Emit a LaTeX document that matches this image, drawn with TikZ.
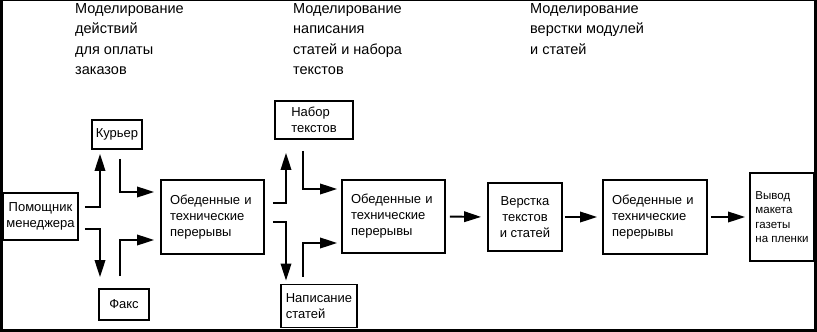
\documentclass[tikz,border=0pt]{standalone}
\usepackage{fontspec}
\setmainfont{Liberation Sans}
\usepackage{tikz}
\usetikzlibrary{positioning, arrows.meta, calc}

\begin{document}
\begin{tikzpicture}[
        x=1pt, y=-1pt,
        font=\fontsize{13}{16}\selectfont,
        b/.style={rectangle, draw, line width=1.8pt, fill=white, align=center, inner sep=2pt},
        lb/.style={b, align=left, inner sep=9pt},
        hd/.style={anchor=north west, inner sep=0pt, align=left,
            font=\fontsize{14.5}{20.5}\selectfont},
        arr/.style={-{Triangle[length=17pt, width=10.5pt]}, line width=1.9pt}
    ]
    \useasboundingbox (0,0) rectangle (817,332);
    \draw[line width=2.8pt] (1.4,0) -- (1.4,330.6) -- (815.3,330.6) -- (815.3,0);
    \draw[line width=1pt] (0,0.5) -- (817,0.5);

    \node[hd] (h1) at (75,3)  {Моделирование\\действий\\для оплаты\\заказов};
    \node[hd] (h2) at (293,3) {Моделирование\\написания\\статей и набора\\текстов};
    \node[hd] (h3) at (530,3) {Моделирование\\верстки модулей\\и статей};

    \node[b, minimum width=75pt, minimum height=47pt] (pm) at (40.5,216.5) {Помощник\\менеджера};
    \node[b, minimum width=50pt, minimum height=29pt] (kur) at (117,134.5) {Курьер};
    \node[b, minimum width=50pt, minimum height=31pt] (fax) at (124,304.5) {Факс};
    \node[lb, minimum width=103pt, minimum height=74pt, text width=85pt] (ob1) at (212.5,217) {Обеденные и\\технические\\перерывы};
    \node[b, align=left, minimum width=78pt, minimum height=38pt] (nab) at (314,120) {Набор\\текстов};
    \node[b, align=left, minimum width=76pt, minimum height=43pt] (nap) at (319,306) {Написание\\ статей};
    \node[lb, minimum width=103pt, minimum height=73pt, text width=85pt] (ob2) at (393.5,216.5) {Обеденные и\\технические\\перерывы};
    \node[b, minimum width=74pt, minimum height=68pt] (ver) at (525,217) {Верстка\\текстов\\и статей};
    \node[lb, minimum width=104pt, minimum height=74pt, text width=86pt] (ob3) at (655,217) {Обеденные и\\технические\\перерывы};
    \node[b, align=left, minimum width=64pt, minimum height=88pt, inner sep=4pt,
        font=\fontsize{11.5}{14.3}\selectfont] (vyv) at (782,217) {Вывод\\макета\\газеты\\на пленки};

    % first stage
    \draw[arr] ([xshift=6pt, yshift=9.5pt]pm.east) -| ([xshift=-17pt, yshift=-4pt]kur.south);
    \draw[arr] ([xshift=6pt, yshift=-12.5pt]pm.east) -| ([xshift=-24pt, yshift=11pt]fax.north);
    \draw[arr] ([xshift=3pt, yshift=-9pt]kur.south) |- ([xshift=-6pt, yshift=25pt]ob1.west);
    \draw[arr] ([xshift=-4pt, yshift=12pt]fax.north) |- ([xshift=-6pt, yshift=-23pt]ob1.west);

    % second stage
    \draw[arr] ([xshift=8pt, yshift=14pt]ob1.east) -| ([xshift=-28pt, yshift=-13pt]nab.south);
    \draw[arr] ([xshift=8pt, yshift=-5pt]ob1.east) -| ([xshift=-33pt, yshift=3pt]nap.north);
    \draw[arr] ([xshift=-11pt, yshift=-11pt]nab.south) |- ([xshift=-4pt, yshift=27.5pt]ob2.west);
    \draw[arr] ([xshift=-16pt, yshift=7pt]nap.north) |- ([xshift=-4pt, yshift=-26.5pt]ob2.west);

    % third stage
    \draw[arr, shorten <=4pt, shorten >=6pt] (ob2.east) -- (ver.west);
    \draw[arr, shorten <=2pt, shorten >=5pt] (ver.east) -- (ob3.west);
    \draw[arr, shorten <=3pt, shorten >=4pt] (ob3.east) -- (vyv.west);
\end{tikzpicture}
\end{document}
